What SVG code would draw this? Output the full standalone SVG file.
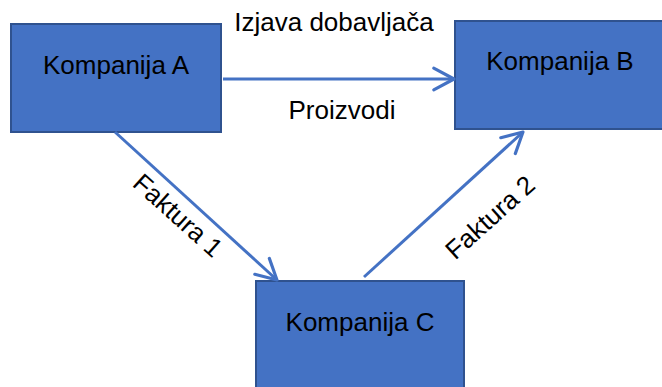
<svg xmlns="http://www.w3.org/2000/svg" width="662" height="387" viewBox="0 0 662 387">
<defs>
<marker id="arr" viewBox="0 0 12 12" refX="10.5" refY="6" markerWidth="9" markerHeight="9" markerUnits="strokeWidth" orient="auto">
<path d="M1.5,1.2 L10.5,6 L1.5,10.8" fill="none" stroke="#4472C4" stroke-width="1.4" stroke-linecap="round" stroke-linejoin="round"/>
</marker>
<style>
.box{fill:#4472C4;stroke:#2F528F;stroke-width:2}
.t{font-family:"Liberation Sans",Arial,sans-serif;font-size:26px;fill:#000;text-anchor:middle}
.c{stroke:#4472C4;stroke-width:3;fill:none;marker-end:url(#arr)}
</style>
</defs>
<rect width="662" height="387" fill="#fff"/>
<g id="node-a"><rect class="box" x="11" y="24" width="210" height="108"/><text class="t" x="116" y="74">Kompanija A</text></g>
<g id="node-b"><rect class="box" x="455" y="21" width="212" height="108"/><text class="t" x="560" y="70">Kompanija B</text></g>
<g id="node-c"><rect class="box" x="256" y="281" width="208" height="112"/><text class="t" x="360" y="331">Kompanija C</text></g>
<g id="connectors">
<line class="c" x1="223" y1="79" x2="454" y2="79"/>
<line class="c" x1="115" y1="132" x2="277" y2="280"/>
<line class="c" x1="364" y1="277" x2="523" y2="132"/>
</g>
<g id="labels">
<text class="t" x="334" y="31">Izjava dobavljača</text>
<text class="t" x="342" y="119">Proizvodi</text>
<text class="t" transform="translate(172,222) rotate(42)">Faktura 1</text>
<text class="t" transform="translate(496,224) rotate(-42)">Faktura 2</text>
</g>
</svg>
